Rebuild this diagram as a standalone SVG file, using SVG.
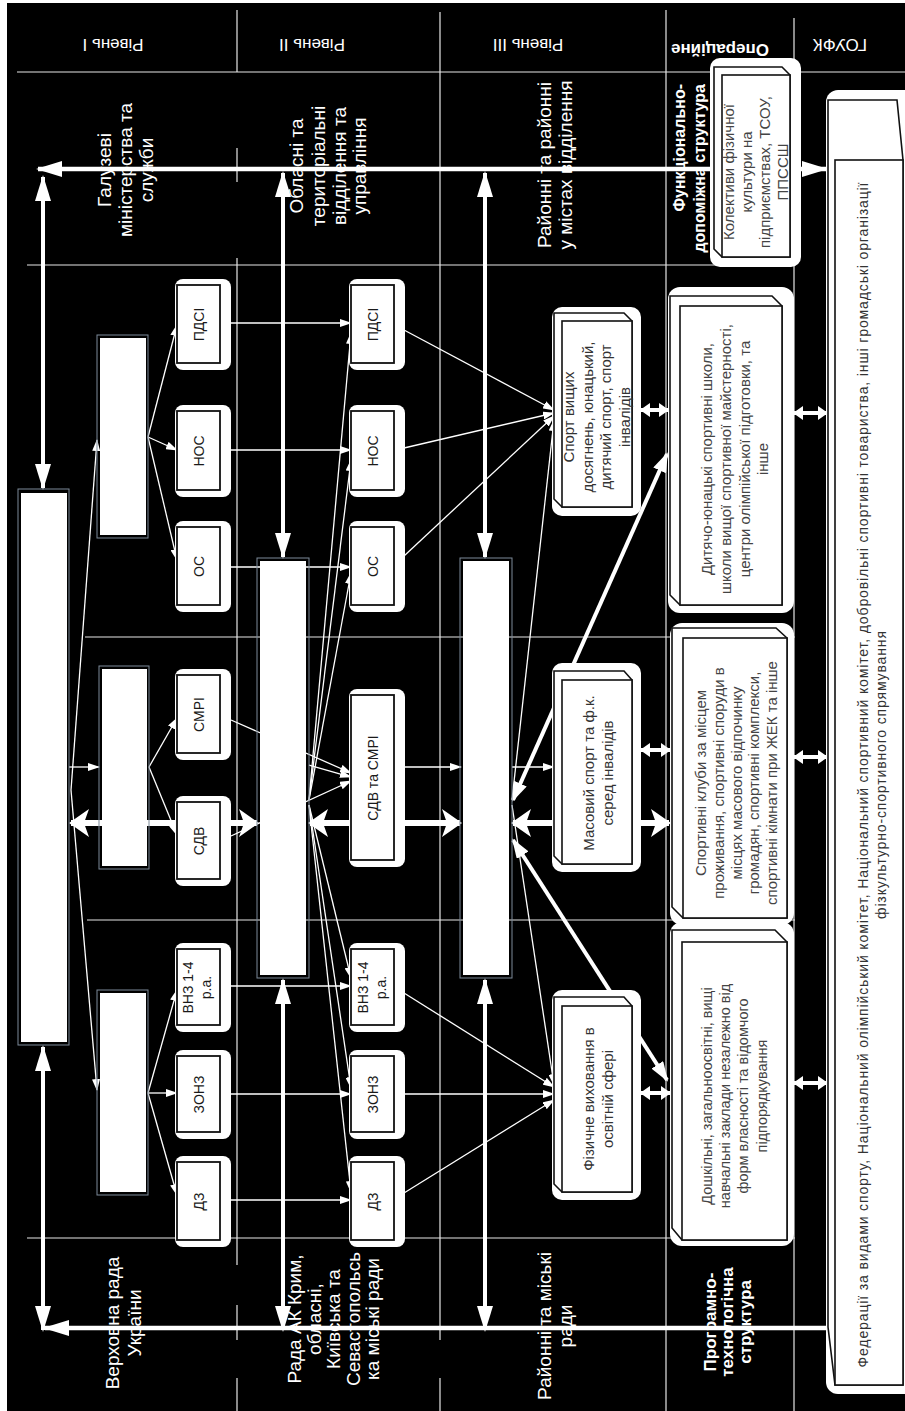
<svg xmlns="http://www.w3.org/2000/svg" width="905" height="1411" viewBox="0 0 905 1411">
<style>
text{font-family:'Liberation Sans',Arial,sans-serif}
.grid{stroke:#e6e6e6;stroke-width:1.2;fill:none}
.thin{stroke:#fff;stroke-width:1.3;fill:none}
.thk{stroke:#fff;fill:none}
.bo{fill:#fff}
.bi{fill:#fff;stroke:#111;stroke-width:1.8}
.bt{fill:#1a1a1a;font-size:14px;text-anchor:middle}
.big{fill:#fff}
.bigb{fill:none;stroke:#7d8a99;stroke-width:1}
.f3{fill:#fff;stroke:#111;stroke-width:1.6}
.t3{fill:#333;font-size:15px;text-anchor:middle}
.t4{fill:#444;font-size:15px;text-anchor:middle}
.lbl{fill:#fff;font-size:19px;text-anchor:middle}
.lblb{fill:#fff;font-size:16px;font-weight:bold;text-anchor:middle}
.hdr{fill:#fff;font-size:17px;text-anchor:middle}
</style>
<defs>
<marker id="aT" viewBox="0 0 12 8" refX="11" refY="4" markerWidth="12" markerHeight="8" markerUnits="userSpaceOnUse" orient="auto-start-reverse"><path d="M0,0L12,4L0,8z" fill="#fff"/></marker>
<marker id="aV" viewBox="0 0 26 16" refX="24" refY="8" markerWidth="26" markerHeight="16" markerUnits="userSpaceOnUse" orient="auto-start-reverse"><path d="M0,0L26,8L0,16z" fill="#fff"/></marker>
<marker id="aW" viewBox="0 0 20 28" refX="18" refY="14" markerWidth="20" markerHeight="28" markerUnits="userSpaceOnUse" orient="auto-start-reverse"><path d="M0,0L20,14L0,28L5,14z" fill="#fff"/></marker>
<marker id="aD" viewBox="0 0 20 14" refX="18" refY="7" markerWidth="20" markerHeight="14" markerUnits="userSpaceOnUse" orient="auto-start-reverse"><path d="M0,0L20,7L0,14z" fill="#fff"/></marker>
<marker id="aS" viewBox="0 0 10 14" refX="9" refY="7" markerWidth="10" markerHeight="14" markerUnits="userSpaceOnUse" orient="auto-start-reverse"><path d="M0,0L10,7L0,14z" fill="#fff"/></marker>
</defs>
<rect x="0" y="0" width="905" height="1411" fill="#fff"/>
<rect x="7" y="3" width="898" height="1408" fill="#000"/>

<g id="grid">
<path class="grid" d="M237,10V72M237,148V182M237,258V1265M237,1305V1340M237,1378V1411"/>
<path class="grid" d="M440,12V1340M440,1378V1411"/>
<path class="grid" d="M666,10V1411"/>
<path class="grid" d="M794,18V1411"/>
<path class="grid" d="M17,72H905M27,265H795M85,637H795M87,920H795M27,1238H795"/>
</g>

<g id="connectors">
<g class="thin" marker-end="url(#aT)">
<path d="M148,437L177,325"/>
<path d="M148,437L177,450"/>
<path d="M148,437L177,560"/>
<path d="M149,767L177,718"/>
<path d="M149,767L177,835"/>
<path d="M148,1093L177,990"/>
<path d="M148,1093L177,1093"/>
<path d="M148,1093L177,1195"/>
<path d="M69,767L99,767"/>
<path d="M71,790L97,440"/>
<path d="M71,790L97,1090"/>
<path d="M231,323L351,323"/>
<path d="M231,450L351,450"/>
<path d="M231,567L351,567"/>
<path d="M231,986L351,986"/>
<path d="M231,1094L351,1094"/>
<path d="M231,1200L351,1200"/>
<path d="M231,720L351,773"/>
<path d="M231,836L351,781"/>
<path d="M309,765L351,777"/>
<path d="M309,800L351,333"/>
<path d="M309,800L351,460"/>
<path d="M309,800L351,573"/>
<path d="M309,805L351,978"/>
<path d="M309,805L351,1088"/>
<path d="M309,805L351,1192"/>
<path d="M404,330L554,410"/>
<path d="M404,448L554,413"/>
<path d="M404,556L554,416"/>
<path d="M404,767L461,767"/>
<path d="M512,767L554,767"/>
<path d="M404,993L554,1087"/>
<path d="M404,1094L554,1094"/>
<path d="M404,1193L554,1100"/>
<path d="M512,800L554,420"/>
<path d="M512,805L554,1085"/>
</g>
<path class="thk" stroke-width="4.5" d="M38,169H826" marker-start="url(#aV)" marker-end="url(#aV)"/>
<path class="thk" stroke-width="4.5" d="M45,1328H827" marker-start="url(#aV)"/>
<g class="thk" stroke-width="4" marker-start="url(#aV)" marker-end="url(#aV)">
<path d="M43,177V488"/>
<path d="M43,1047V1330"/>
<path d="M283,173V557"/>
<path d="M283,980V1330"/>
<path d="M485,173V557"/>
<path d="M485,980V1330"/>
</g>
<g class="thk" stroke-width="6" marker-start="url(#aW)" marker-end="url(#aW)">
<path d="M71,823H257"/>
<path d="M310,823H460"/>
<path d="M513,823H669"/>
</g>
<g class="thk" stroke-width="4" marker-start="url(#aD)" marker-end="url(#aD)">
<path d="M513,800L667,454"/>
<path d="M513,840L667,1080"/>
</g>
<g class="thk" stroke-width="4" marker-start="url(#aS)" marker-end="url(#aS)">
<path d="M641,410H668"/>
<path d="M794,413H827"/>
<path d="M641,750H670"/>
<path d="M794,757H827"/>
<path d="M641,1093H670"/>
<path d="M794,1083H827"/>
</g>
</g>

<g id="n-A"><rect class="big" x="21" y="493" width="46" height="549"/><rect class="bigb" x="18" y="489" width="51" height="556"/></g>
<g id="n-B1"><rect class="big" x="100" y="338" width="46" height="197"/><rect class="bigb" x="97" y="335" width="51" height="203"/></g>
<g id="n-B2"><rect class="big" x="102" y="669" width="45" height="197"/><rect class="bigb" x="99" y="666" width="50" height="203"/></g>
<g id="n-B3"><rect class="big" x="100" y="993" width="46" height="199"/><rect class="bigb" x="97" y="990" width="51" height="205"/></g>
<g id="n-C"><rect class="big" x="260" y="561" width="46" height="414"/><rect class="bigb" x="257" y="558" width="52" height="420"/></g>
<g id="n-D"><rect class="big" x="463" y="561" width="46" height="414"/><rect class="bigb" x="460" y="558" width="52" height="420"/></g>

<g id="n-pdsi1"><rect class="bo" x="175" y="279" width="56" height="91" rx="8"/><rect class="bi" x="177" y="285" width="43" height="78"/><text class="bt" transform="translate(198.5,324.5) rotate(-90)" y="5">ПДСІ</text></g>
<g id="n-nos1"><rect class="bo" x="175" y="405" width="56" height="92" rx="8"/><rect class="bi" x="177" y="411" width="43" height="79"/><text class="bt" transform="translate(198.5,451) rotate(-90)" y="5">НОС</text></g>
<g id="n-os1"><rect class="bo" x="175" y="521" width="56" height="91" rx="8"/><rect class="bi" x="177" y="527" width="43" height="78"/><text class="bt" transform="translate(198.5,566.5) rotate(-90)" y="5">ОС</text></g>
<g id="n-smri1"><rect class="bo" x="175" y="669" width="56" height="91" rx="8"/><rect class="bi" x="177" y="675" width="43" height="78"/><text class="bt" transform="translate(198.5,714.5) rotate(-90)" y="5">СМРІ</text></g>
<g id="n-sdv1"><rect class="bo" x="175" y="796" width="56" height="90" rx="8"/><rect class="bi" x="177" y="802" width="43" height="77"/><text class="bt" transform="translate(198.5,841) rotate(-90)" y="5">СДВ</text></g>
<g id="n-vnz1"><rect class="bo" x="175" y="943" width="56" height="89" rx="8"/><rect class="bi" x="177" y="949" width="43" height="76"/><text class="bt" transform="translate(197,987.5) rotate(-90)"><tspan x="0" y="-4.4">ВНЗ 1-4</tspan><tspan x="0" y="13.6">р.а.</tspan></text></g>
<g id="n-zonz1"><rect class="bo" x="175" y="1050" width="56" height="89" rx="8"/><rect class="bi" x="177" y="1056" width="43" height="76"/><text class="bt" transform="translate(198.5,1094.5) rotate(-90)" y="5">ЗОНЗ</text></g>
<g id="n-dz1"><rect class="bo" x="175" y="1156" width="56" height="91" rx="8"/><rect class="bi" x="177" y="1162" width="43" height="78"/><text class="bt" transform="translate(198.5,1201.5) rotate(-90)" y="5">ДЗ</text></g>

<g id="n-pdsi2"><rect class="bo" x="349" y="279" width="56" height="91" rx="8"/><rect class="bi" x="351" y="285" width="43" height="78"/><text class="bt" transform="translate(372.5,324.5) rotate(-90)" y="5">ПДСІ</text></g>
<g id="n-nos2"><rect class="bo" x="349" y="405" width="56" height="92" rx="8"/><rect class="bi" x="351" y="411" width="43" height="79"/><text class="bt" transform="translate(372.5,451) rotate(-90)" y="5">НОС</text></g>
<g id="n-os2"><rect class="bo" x="349" y="521" width="56" height="91" rx="8"/><rect class="bi" x="351" y="527" width="43" height="78"/><text class="bt" transform="translate(372.5,566.5) rotate(-90)" y="5">ОС</text></g>
<g id="n-sdvsmri2"><rect class="bo" x="349" y="689" width="56" height="178" rx="8"/><rect class="bi" x="351" y="695" width="43" height="165"/><text class="bt" transform="translate(372.5,778) rotate(-90)" y="5">СДВ та СМРІ</text></g>
<g id="n-vnz2"><rect class="bo" x="349" y="943" width="56" height="89" rx="8"/><rect class="bi" x="351" y="949" width="43" height="76"/><text class="bt" transform="translate(372,987.5) rotate(-90)"><tspan x="0" y="-4.4">ВНЗ 1-4</tspan><tspan x="0" y="13.6">р.а.</tspan></text></g>
<g id="n-zonz2"><rect class="bo" x="349" y="1050" width="56" height="89" rx="8"/><rect class="bi" x="351" y="1056" width="43" height="76"/><text class="bt" transform="translate(372.5,1094.5) rotate(-90)" y="5">ЗОНЗ</text></g>
<g id="n-dz2"><rect class="bo" x="349" y="1156" width="56" height="91" rx="8"/><rect class="bi" x="351" y="1162" width="43" height="78"/><text class="bt" transform="translate(372.5,1201.5) rotate(-90)" y="5">ДЗ</text></g>

<g id="n-sport">
<rect class="bo" x="552" y="307" width="89" height="209" rx="10"/>
<polygon class="f3" points="554,313 624,313 632,321 632,507 562,507 554,499"/>
<rect class="f3" x="562" y="321" width="70" height="186"/>
<text class="t3" transform="translate(597,417) rotate(-90)"><tspan x="0" y="-23">Спорт вищих</tspan><tspan x="0" y="-4.3">досягнень, юнацький,</tspan><tspan x="0" y="14.4">дитячий спорт, спорт</tspan><tspan x="0" y="33">інвалідів</tspan></text>
</g>
<g id="n-masovyi">
<rect class="bo" x="552" y="663" width="89" height="209" rx="10"/>
<polygon class="f3" points="554,671 624,671 632,680 632,864 562,864 554,856"/>
<rect class="f3" x="562" y="680" width="70" height="184"/>
<text class="t3" transform="translate(598,773) rotate(-90)"><tspan x="0" y="-4">Масовий спорт та ф.к.</tspan><tspan x="0" y="15">серед інвалідів</tspan></text>
</g>
<g id="n-fiz">
<rect class="bo" x="552" y="990" width="89" height="210" rx="10"/>
<polygon class="f3" points="554,997 624,997 632,1006 632,1192 562,1192 554,1184"/>
<rect class="f3" x="562" y="1006" width="70" height="186"/>
<text class="t3" transform="translate(598,1099) rotate(-90)"><tspan x="0" y="-4">Фізичне виховання в</tspan><tspan x="0" y="15">освітній сфері</tspan></text>
</g>

<g id="n-kolektyvy">
<rect class="bo" x="710" y="58" width="91" height="209" rx="10"/>
<polygon class="f3" points="714,67 782,67 790,75 790,257 722,257 714,249"/>
<rect class="f3" x="722" y="75" width="68" height="182"/>
<text class="t4" transform="translate(756,172) rotate(-90)"><tspan x="0" y="-22">Колективи фізичної</tspan><tspan x="0" y="-4">культури на</tspan><tspan x="0" y="14">підприємствах, ТСОУ,</tspan><tspan x="0" y="32">ППССШ</tspan></text>
</g>
<g id="n-dyussh">
<rect class="bo" x="668" y="287" width="126" height="326" rx="12"/>
<polygon class="f3" points="670,296 772,296 782,306 782,605 680,605 670,595"/>
<rect class="f3" x="680" y="306" width="102" height="299"/>
<text class="t4" transform="translate(735,459) rotate(-90)"><tspan x="0" y="-23">Дитячо-юнацькі спортивні школи,</tspan><tspan x="0" y="-4">школи вищої спортивної майстерності,</tspan><tspan x="0" y="15">центри олімпійської підготовки, та</tspan><tspan x="0" y="33">інше</tspan></text>
</g>
<g id="n-kluby">
<rect class="bo" x="670" y="623" width="124" height="302" rx="12"/>
<polygon class="f3" points="672,628 776,628 787,638 787,918 683,918 672,907"/>
<rect class="f3" x="683" y="638" width="104" height="280"/>
<text class="t4" transform="translate(737,783) rotate(-90)"><tspan x="0" y="-31">Спортивні клуби за місцем</tspan><tspan x="0" y="-13">проживання, спортивні споруди в</tspan><tspan x="0" y="5">місцях масового відпочинку</tspan><tspan x="0" y="22">громадян, спортивні комплекси,</tspan><tspan x="0" y="40">спортивні кімнати при ЖЕК та інше</tspan></text>
</g>
<g id="n-doshkilni">
<rect class="bo" x="670" y="922" width="124" height="324" rx="12"/>
<polygon class="f3" points="672,930 775,930 787,942 787,1240 682,1240 672,1228"/>
<rect class="f3" x="682" y="942" width="105" height="298"/>
<text class="t4" style="font-size:14.5px" transform="translate(734,1096) rotate(-90)"><tspan x="0" y="-22">Дошкільні, загальноосвітні, вищі</tspan><tspan x="0" y="-4">навчальні заклади незалежно від</tspan><tspan x="0" y="14">форм власності та відомчого</tspan><tspan x="0" y="33">підпорядкування</tspan></text>
</g>
<g id="n-federations">
<rect class="bo" x="826" y="90" width="90" height="1304" rx="12"/>
<polygon class="f3" points="828,100 897,100 903,160 903,1385 835,1385 828,1327"/>
<rect class="f3" x="835" y="160" width="68" height="1225"/>
<text fill="#333" font-size="14" text-anchor="middle" transform="translate(872,775) rotate(-90)"><tspan x="0" y="-4.4" textLength="1185" lengthAdjust="spacing">Федерації за видами спорту, Національний олімпійський комітет, Національний спортивний комітет, добровільні спортивні товариства, інші громадські організації</tspan><tspan x="0" y="13.6" textLength="288" lengthAdjust="spacing">фізкультурно-спортивного спрямування</tspan></text>
</g>

<g id="labels">
<text class="hdr" transform="translate(113,45) rotate(180)" y="6">Рівень І</text>
<text class="hdr" transform="translate(312,45) rotate(180)" y="6">Рівень ІІ</text>
<text class="hdr" transform="translate(528,45) rotate(180)" y="6">Рівень ІІІ</text>
<text class="hdr" font-weight="bold" transform="translate(720,50) rotate(180)" y="6">Операційне</text>
<text class="hdr" font-size="16" transform="translate(840,45) rotate(180)" y="6">ГОУФК</text>
<text class="lbl" transform="translate(126,170) rotate(-90)"><tspan x="0" y="-14.7">Галузеві</tspan><tspan x="0" y="6.3">міністерства та</tspan><tspan x="0" y="27.3">служби</tspan></text>
<text class="lbl" transform="translate(329,166) rotate(-90)"><tspan x="0" y="-25.7">Обласні та</tspan><tspan x="0" y="-3.7">територіальні</tspan><tspan x="0" y="17.3">відділення та</tspan><tspan x="0" y="37.3">управління</tspan></text>
<text class="lbl" transform="translate(555,165) rotate(-90)"><tspan x="0" y="-3.7">Районні та районні</tspan><tspan x="0" y="17.3">у містах відділення</tspan></text>
<text class="lblb" text-anchor="end" style="text-anchor:end" transform="translate(690,84) rotate(-90)"><tspan x="0" y="-4.7">Функціонально-</tspan><tspan x="0" y="15.3">допоміжна структура</tspan></text>
<text class="lbl" transform="translate(124,1323) rotate(-90)"><tspan x="0" y="-4.7">Верховна рада</tspan><tspan x="0" y="17.3">України</tspan></text>
<text class="lbl" transform="translate(334,1319) rotate(-90)"><tspan x="0" y="-32.7">Рада АК Крим,</tspan><tspan x="0" y="-13.2">обласні,</tspan><tspan x="0" y="6.3">Київська та</tspan><tspan x="0" y="25.8">Севастопольсь</tspan><tspan x="0" y="45.3">ка міські ради</tspan></text>
<text class="lbl" transform="translate(555,1326) rotate(-90)"><tspan x="0" y="-3.7">Районні та міські</tspan><tspan x="0" y="17.3">ради</tspan></text>
<text class="lblb" font-size="17" style="font-size:17px" transform="translate(727,1322) rotate(-90)"><tspan x="0" y="-11.4">Програмно-</tspan><tspan x="0" y="5.6">технологічна</tspan><tspan x="0" y="23.6">структура</tspan></text>
</g>
</svg>
